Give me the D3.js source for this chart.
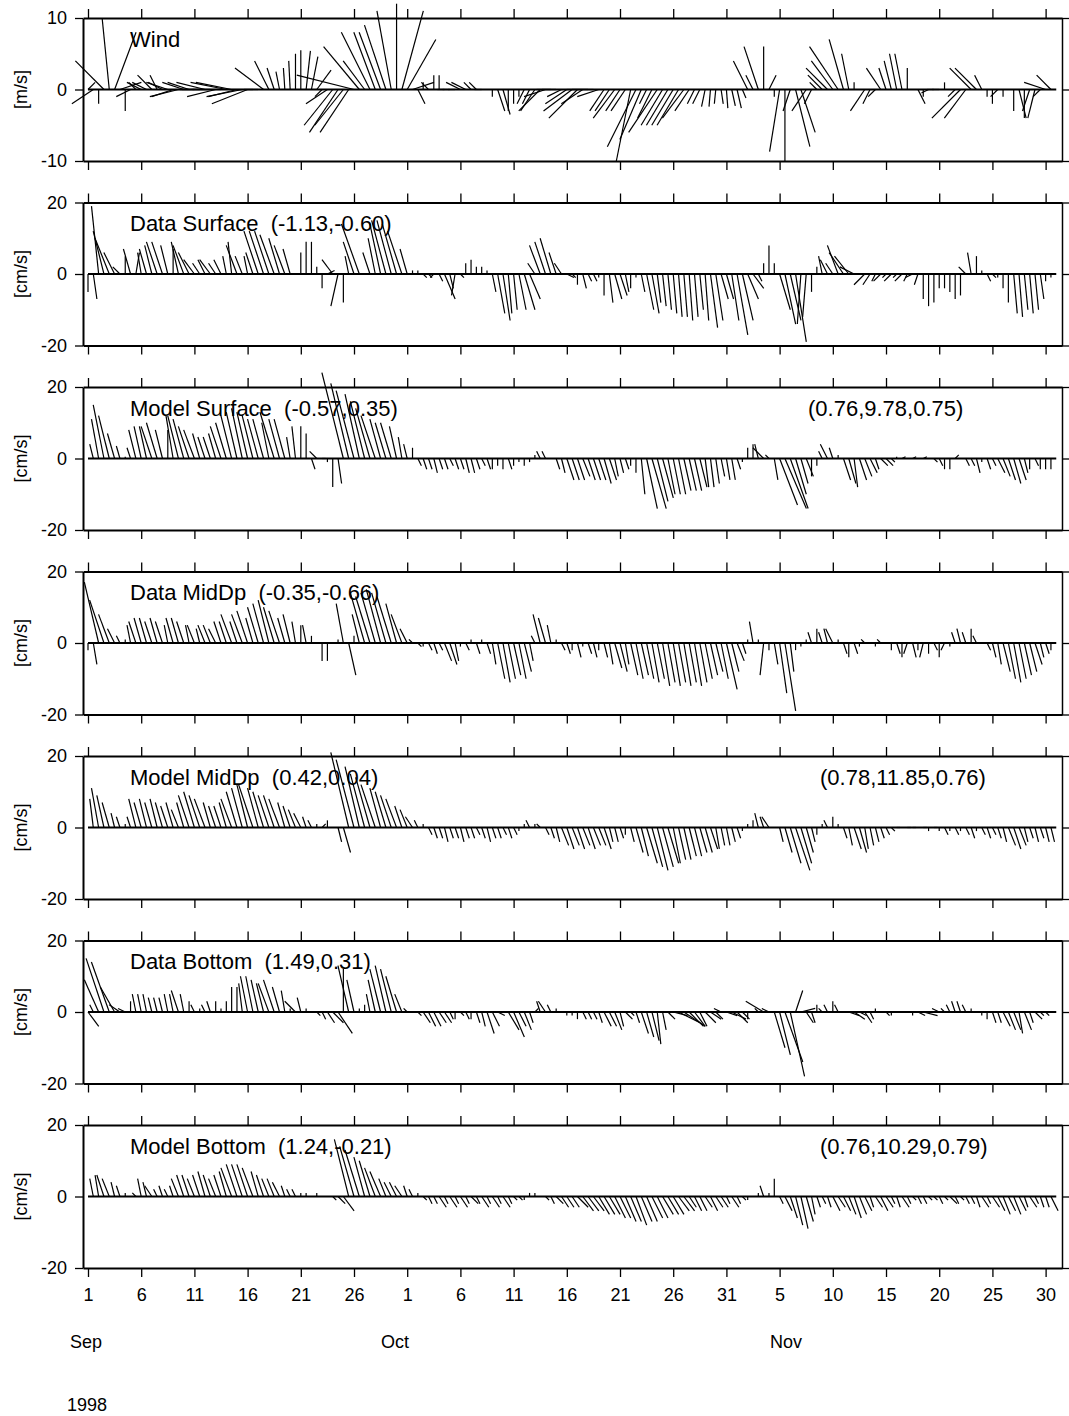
<!DOCTYPE html>
<html>
<head>
<meta charset="utf-8">
<script src="https://cdn.jsdelivr.net/npm/d3@7"></script>
<style>
  body { margin: 0; background: #fff; }
  text { font-family: "Liberation Sans", Arial, Helvetica, sans-serif; fill: #000; }
</style>
</head>
<body>
<div id="chart"></div>
<script>
// records are every 12 hours, first one on Sep 1 1998 00:00
var stepDays = 0.5;

// x ticks every 5 days from Sep 1
var tickDays = [0, 5, 10, 15, 20, 25, 30, 35, 40, 45, 50, 55, 60, 65, 70, 75, 80, 85, 90];
var tickLabels = ["1", "6", "11", "16", "21", "26", "1", "6", "11", "16", "21", "26", "31", "5", "10", "15", "20", "25", "30"];
var monthNames = ["Sep", "Oct", "Nov"];
var yearLabel = "1998";

// [u, v] pairs (east, north), wind in m/s
var wind = [
  [1,1],[-3,-2],[0,-2],[-4,4],[-1,10],[3,8],[3,1],[0,-3],[-2,-1],[-1,1],
  [-2,1],[-2,1],[-2,2],[-1,2],[-2,1],[-3,1],[-3,-1],[-4,-1],[-3,1],[-3,1],
  [-2,0],[-3,0],[-4,1],[-4,0],[-4,-1],[-4,0],[-5,1],[-5,1],[-4,-1],[-5,-1],
  [-5,-2],[-3,0],[-2,0],[-4,3],[-2,4],[-1,3],[-0.5,2.5],[-0.2,3],[-0.2,4],[0,5],
  [0,5.5],[0.6,5.4],[0.9,4.6],[2,2.7],[-1,-1],[-3,-2],[-4,-5],[-4,-6],[-4,-5],[-4,-6],
  [-8,2],[-5,6],[-3,4],[-4,8],[-3,8],[-3,8],[-3,9],[-2,11],[0,12],[3,11],
  [4,7],[3,1],[1,-2],[0,1],[-1,1],[0,2],[0,2],[-1,0],[-1,0],[-1,0],
  [-2,1],[-2,1],[-1,1],[-1,1],[-1,0],[0,0],[0,-1],[1,-3],[1,-3.5],[0,-3],
  [0,-2],[0,-1],[-1,-2],[-1,-2],[-2,-3],[-3,-3],[-3,-1],[-2,0],[-2,0],[-2,-1],
  [-3,-2],[-4,-3],[-4,-4],[-3,-2],[-3,0],[-3,0],[-3,-1],[-2,-3],[-2,-3],[-3,-4],
  [-2,-3],[-2,-3],[-2,-10],[-4,-8],[-3,-7],[-1,-2],[-2,-4],[-4,-6],[-3,-5],[-3,-5],
  [-3,-5],[-3,-5],[-3,-4],[-2,-3],[-1,-2],[-1,-2],[-0.5,-2.4],[-0.2,-2.4],[-0.2,-2],[0.3,-2],
  [0.2,-2.6],[0.5,-2.3],[0.6,-2.6],[0.5,-1.2],[-2,4],[-1,2],[-2,6],[0,6],[1,2],[0,-1],
  [-1.4,-8.7],[0,-10],[-1,-3],[2,-8],[2,-6],[-2,-3],[-1,-2],[-1,1],[-2,2],[-3,3],
  [-3,4],[-4,6],[-2,7],[-1,5],[0,1],[0,0],[-2,-3],[-1,-2],[-1,-1],[-2,3],
  [-1,3],[-1,4],[-1,5],[-1,5],[0,3],[0,0],[1,-2],[0,-1],[-1,-0.5],[-1,0],
  [-1,0],[0,1],[0,0],[-1,-1],[-4,-4],[-3,-4],[-3,3],[-3,3],[-1,2],[0,-1],
  [0,-2],[-1,-1],[0,-1],[0,0],[0,-3],[1,-4],[0,-4],[-1,-3],[-1,-4],[-1,-1],
  [-3,1],[-2,2]
];

// currents in cm/s
var dataSurface = [
  [0,-5],[1,-7],[-2,19],[-3,12],[-4,10],[-3,6],[-2,2],[0,5],[-2,7],[1,6],
  [-1,6],[-2,7],[-2,8],[-3,9],[-3,9],[-2,8],[0,7],[-2,9],[-3,8],[-3,6],
  [-3,4],[-2,3],[-2,4],[-3,4],[-2,3],[-2,4],[-1,5],[-1,9],[-3,8],[-2,5],
  [-1,5],[-2,6],[-4,12],[-4,12],[-4,12],[-4,11],[-3,10],[-3,8],[-2,7],[0,0],
  [0,6],[0,9],[0,9],[0,2],[0,-4],[2,1],[-3,4],[-2,-9],[0,-8],[-1,5],
  [-3,9],[-5,14],[1,0],[-2,6],[-2,10],[-3,14],[-4,15],[-4,15],[-4,14],[-4,12],
  [-2,7],[0,1],[0,1],[1,-1],[1,-1],[-1,-1],[1,-2],[3,-7],[1,-4],[-1,-6],
  [1,-1],[0,3],[0,4],[0,2],[0,2],[0,1],[1,-5],[2,-11],[2,-13],[1,-11],
  [1,-10],[2,-10],[3,-10],[3,-7],[-2,3],[-3,8],[-3,9],[-3,10],[-2,6],[-2,3],
  [2,-1],[1,-1],[0,-3],[1,-4],[1,-2],[1,-2],[0,-1],[0,-6],[1,-8],[2,-7],
  [2,-6],[1,-5],[0,-4],[0,-1],[1,-5],[2,-10],[2,-11],[1,-8],[1,-9],[1,-10],
  [1,-11],[1,-12],[1,-12],[1,-13],[1,-12],[1,-10],[1,-13],[2,-15],[2,-13],[2,-7],
  [2,-7],[2,-13],[3,-17],[3,-13],[3,-7],[3,-4],[1,-2],[0,3],[0,8],[0,3],
  [3,-10],[3,-14],[3,-13],[3,-19],[-1,-14],[-1,-12],[0,-5],[0,2],[-1,5],[-2,4],
  [-2,3],[-3,8],[-4,6],[-4,5],[-4,2],[-2,0],[-3,-3],[-2,-3],[-1,-2],[-2,-2],
  [-1,-1],[-2,-2],[-1,-1],[-2,-2],[-1,-2],[-2,-1],[-1,-3],[0,-7],[0,-9],[0,-8],
  [0,-4],[0,-4],[0,-5],[0,-7],[0,-6],[-2,2],[-1,6],[0,5],[0,1],[1,-2],
  [1,-1],[0,-1],[0,-4],[0,-8],[1,-11],[1,-12],[1,-10],[1,-11],[1,-10],[1,-7],
  [0,-2],[0,-1]
];

var modelSurface = [
  [0,0],[-1,4],[-2,11],[-3,15],[-3,12],[-2,7],[-1,3.5],[0,0.5],[-1,3],[-2,8],
  [-2,9],[-2,9],[-3,9],[-3,10],[-2,8],[0,8],[-2,12],[-3,12],[-3,11],[-3,9],
  [-3,8],[-2,7],[-2,6],[-2,6],[-2,7],[-3,9],[-3,10],[-3,12],[-3,13],[-3,14],
  [-3,13],[-3,12],[-3,11],[-3,11],[-2,10],[-4,13],[-3,11],[-3,11],[-1,6],[-1,9],
  [0,9],[0,7],[1,-3],[-2,2],[1,0],[0,-1],[0,-8],[1,-7],[-6,24],[-5,21],
  [-5,19],[-4,18],[-4,16],[-4,14],[-4,12],[-3,11],[-3,10],[-3,10],[-2,9],[-1,6],
  [-1,4],[0,3],[1,-2],[1,-3],[1,-3],[1,-4],[1,-3],[1,-3],[1,-2],[1,-3],
  [1,-3],[1,-4],[1,-4],[1,-3],[1,-2],[1,-3],[0,-3],[0,-2],[0,-3],[1,-3],
  [0,-2],[0,-1],[0,-2],[0,-1],[0,1],[-1,2],[-1,2],[0,0],[1,-3],[1,-4],
  [2,-6],[2,-6],[2,-6],[2,-5],[2,-6],[2,-6],[2,-6],[2,-7],[2,-6],[1,-5],
  [1,-4],[1,-3],[0,-2],[0,-4],[1,-10],[3,-14],[4,-14],[3,-12],[3,-11],[2,-10],
  [2,-10],[2,-10],[2,-9],[2,-9],[2,-9],[2,-8],[1,-8],[1,-8],[1,-7],[1,-5],
  [1,-6],[1,-6],[1,-3],[0,-1],[0,3],[0,4],[-1,4],[-3,3],[-1,1],[1,-6],
  [5,-13],[6,-14],[5,-14],[3,-10],[2,-7],[2,-5],[0,-5],[0,-2],[-1,2],[-2,4],
  [-1,3],[0,1],[2,-6],[2,-7],[1,-8],[2,-6],[2,-5],[2,-4],[1,-3],[2,-2],
  [2,-2],[1,-1],[0,0.5],[1,0.5],[0,0],[1,0.5],[0,0],[1,0.5],[0,0],[1,-1],
  [1,-2],[0,-3],[0,-3],[1,1],[0,0],[1,-2],[1,-2],[1,-4],[0,-1],[1,-3],
  [1,-2],[2,-4],[2,-5],[2,-6],[2,-7],[2,-6],[1,-4],[0,-3],[1,-2],[0,-3],
  [0,-3],[0,-3]
];

var dataMid = [
  [0,-2],[1,-6],[-4,17],[-4,12],[-3,8],[-2,4],[-1,2],[0,1],[-1,5],[-2,6],
  [-2,7],[-2,7],[-2,6],[-2,7],[-2,6],[-1,5],[-2,7],[-2,7],[-2,6],[-1,5],
  [-2,5],[-1,4],[-2,5],[-2,5],[-2,4],[-2,6],[-2,6],[-3,8],[-2,6],[-3,8],
  [-3,9],[-2,7],[-3,10],[-3,11],[-3,12],[-3,10],[-3,9],[-2,7],[-2,8],[-1,6],
  [0,5],[-1,5],[0,2],[0,0],[0,-5],[0,-5],[0,0],[0,1],[-2,11],[2,-9],
  [0,2],[-2,8],[-4,14],[-4,13],[-4,14],[-4,15],[-4,14],[-4,13],[-3,11],[-3,8],
  [-2,4],[-1,1],[1,-1],[0,-1],[1,-2],[1,-3],[1,-2],[2,-5],[2,-6],[1,-5],
  [0,-1],[1,-2],[0,1],[1,-3],[0,1],[1,-3],[1,-6],[2,-10],[2,-11],[2,-10],
  [2,-9],[2,-10],[2,-8],[1,-5],[-1,2],[-2,8],[-2,7],[-1,5],[0,1],[1,-2],
  [1,-3],[0,-2],[1,-4],[0,-1],[1,-3],[1,-4],[0,-2],[1,-4],[1,-6],[2,-7],
  [2,-8],[1,-6],[2,-9],[2,-10],[2,-9],[2,-10],[2,-11],[2,-10],[2,-12],[2,-11],
  [2,-12],[2,-11],[2,-12],[2,-11],[2,-12],[2,-11],[2,-10],[2,-9],[2,-8],[2,-10],
  [3,-13],[2,-8],[2,-5],[1,-3],[0,1],[-1,6],[0,1],[-1,-9],[0,-2],[1,-6],
  [2,-14],[3,-19],[1,-8],[0,-2],[0,-1],[0,1],[-1,3],[0,4],[-1,3],[-1,4],
  [-2,4],[0,1],[1,-3],[0,-4],[1,-3],[0,-1],[-1,1],[-1,0],[0,-1],[-1,1],
  [0,0],[0,-2],[1,-3],[0,-4],[-1,-3],[1,-4],[0,-2],[-1,-4],[0,-3],[1,-2],
  [0,-4],[-1,-2],[0,-1],[-1,3],[-1,4],[-1,3],[0,4],[-1,2],[0,0],[1,-2],
  [1,-4],[1,-6],[2,-8],[2,-10],[2,-11],[2,-10],[2,-9],[2,-8],[2,-6],[1,-4],
  [1,-3],[0,-2]
];

var modelMid = [
  [0,0],[-1,8],[-2,11],[-2,9],[-2,7],[-1,4],[-1,3],[0,1],[-1,3],[-2,8],
  [-2,7],[-2,8],[-2,7],[-2,8],[-2,7],[-2,6],[-2,7],[-2,5],[-2,7],[-3,9],
  [-3,10],[-3,9],[-3,8],[-2,7],[-2,6],[-2,6],[-2,7],[-3,8],[-3,10],[-3,11],
  [-3,12],[-4,12],[-3,11],[-3,10],[-3,9],[-3,9],[-3,8],[-2,7],[-2,6],[-2,5],
  [-2,4],[-1,3],[-1,2],[0,1],[1,1],[0,2],[0,0],[1,-4],[2,-7],[-5,21],
  [-5,19],[-4,17],[-4,15],[-4,14],[-4,12],[-3,11],[-3,10],[-3,9],[-3,8],[-2,6],
  [-2,5],[-2,3],[-1,2],[0,1],[1,-2],[1,-3],[1,-3],[1,-4],[1,-3],[1,-3],
  [1,-4],[1,-3],[1,-3],[1,-2],[1,-3],[1,-4],[1,-3],[1,-3],[1,-2],[1,-3],
  [1,-2],[0,-1],[0,1],[-1,2],[0,1],[-1,1],[1,-2],[1,-3],[1,-4],[2,-5],
  [2,-6],[2,-5],[2,-6],[2,-5],[2,-6],[2,-5],[2,-5],[2,-6],[1,-4],[1,-4],
  [1,-3],[0,-2],[1,-4],[2,-7],[2,-8],[3,-10],[3,-11],[3,-12],[3,-11],[3,-10],
  [2,-10],[2,-9],[2,-9],[2,-8],[2,-8],[2,-7],[2,-7],[2,-6],[1,-6],[1,-5],
  [1,-5],[1,-4],[1,-3],[0,-1],[0,1],[0,2],[-1,4],[-1,3],[-2,3],[0,0],
  [1,-4],[2,-7],[3,-10],[4,-12],[3,-10],[2,-7],[1,-4],[0,-2],[0,1],[-1,2],
  [0,3],[0,1],[1,-3],[1,-5],[2,-6],[2,-7],[1,-6],[1,-5],[1,-4],[1,-3],
  [1,-2],[1,-1],[1,0],[0,0],[1,0],[1,0],[0,0],[1,0],[0,-1],[1,0],
  [0,-1],[1,-2],[0,-1],[1,-2],[0,-1],[1,-2],[1,-3],[0,-1],[1,-2],[1,-3],
  [1,-2],[1,-3],[1,-4],[2,-5],[2,-6],[2,-5],[1,-4],[1,-3],[1,-4],[1,-3],
  [1,-4],[1,-4]
];

var dataBottom = [
  [3,-4],[-1,2],[-4,9],[-5,15],[-5,14],[-4,7],[-3,2],[-2,1],[0,3],[-1,5],
  [-1,5],[-1,5],[-1,4],[-1,4],[-1,4],[-1,5],[-1,5],[-2,6],[-1,5],[0,3],
  [-1,2],[0,1],[-1,2],[-1,3],[0,3],[0,1],[0,3],[0,7],[0,7],[-1,8],
  [-2,10],[-2,10],[-2,9],[-2,8],[-3,8],[-3,9],[-2,7],[-1,6],[0,1],[-3,3],
  [-1,4],[0,1],[0,0],[1,-1],[1,-2],[2,-3],[3,-3],[4,-6],[0,12],[-3,13],
  [-2,9],[0,1],[0,2],[-1,5],[-2,9],[-3,12],[-3,13],[-3,12],[-3,10],[-2,5],
  [-1,1],[-1,0],[1,-1],[2,-3],[2,-4],[2,-4],[2,-3],[2,-3],[1,-2],[0,-2],
  [1,-1],[1,-2],[0,-2],[1,-3],[1,-4],[2,-6],[2,-4],[2,-1],[1,0],[3,-5],
  [3,-7],[2,-4],[2,-5],[1,-3],[1,1],[-1,3],[-2,3],[-1,2],[0,1],[0,0],
  [0,-1],[0,-1],[0,-2],[1,-2],[1,-2],[1,-2],[1,-3],[2,-4],[2,-4],[2,-5],
  [1,-4],[2,-2],[1,-1],[1,-3],[2,-6],[2,-7],[2,-8],[1,-9],[1,-5],[2,-2],
  [4,-1],[6,-3],[6,-4],[4,-4],[3,-4],[2,-4],[3,-3],[3,-2],[2,-2],[-2,1],
  [3,-1],[4,-2],[3,-3],[2,-2],[0,-2],[0,0],[-1,1],[-5,3],[-2,1],[3,-10],
  [3,-12],[5,-14],[4,-18],[2,6],[4,1],[2,-3],[1,-3],[0,2],[-1,1],[-1,2],
  [0,3],[-1,2],[0,0],[3,-1],[3,-2],[2,-1],[2,-3],[1,-2],[0,1],[1,0],
  [1,-1],[0,-1],[0,0],[1,0],[0,0],[0,-1],[2,-1],[4,-1],[1,0],[-1,0],
  [-2,1],[-1,1],[-1,2],[-1,3],[-1,3],[-1,2],[0,1],[0,0],[0,-1],[0,-2],
  [1,-3],[1,-3],[2,-4],[2,-5],[2,-5],[1,-6],[2,-5],[1,-3],[2,-2],[1,-1],
  [1,-1],[0,0]
];

var modelBottom = [
  [0,0],[-1,5],[-1,6],[-2,6],[-2,5],[-1,4],[-1,3],[0,1],[0,0],[-1,1],
  [-1,5],[-1,4],[-2,3],[-1,2],[-1,3],[-1,2],[-1,3],[-2,5],[-2,6],[-2,6],
  [-2,5],[-2,6],[-2,7],[-2,6],[-2,5],[-2,6],[-2,7],[-3,8],[-3,9],[-3,9],
  [-3,9],[-3,8],[-2,7],[-2,6],[-2,5],[-2,5],[-2,4],[-1,3],[-1,2],[-1,2],
  [0,1],[0,1],[0,0],[0,1],[0,0],[0,0],[1,-1],[2,-2],[3,-4],[-4,16],
  [-4,14],[-4,13],[-3,11],[-3,10],[-3,8],[-3,7],[-2,5],[-2,4],[-2,4],[-2,3],
  [-1,3],[-1,2],[0,1],[1,-1],[1,-2],[1,-2],[2,-3],[1,-2],[2,-3],[1,-2],
  [2,-3],[1,-2],[2,-2],[1,-2],[2,-3],[1,-2],[2,-3],[1,-2],[2,-3],[1,-2],
  [1,-1],[1,-1],[0,-1],[0,1],[0,1],[0,0],[1,-1],[1,-2],[2,-2],[2,-3],
  [2,-3],[2,-3],[3,-3],[3,-4],[3,-4],[3,-4],[3,-5],[3,-5],[3,-5],[3,-6],
  [3,-6],[3,-7],[3,-7],[3,-8],[3,-7],[3,-7],[3,-6],[3,-6],[3,-5],[3,-5],
  [3,-5],[3,-4],[3,-4],[2,-3],[2,-4],[2,-4],[2,-3],[2,-4],[2,-3],[2,-3],
  [1,-2],[2,-3],[1,-2],[1,-1],[0,-1],[0,0],[0,1],[-1,3],[0,1],[0,5],
  [1,-2],[2,-4],[2,-6],[2,-8],[2,-9],[2,-7],[1,-5],[1,-3],[1,-2],[1,-3],
  [2,-4],[2,-3],[2,-4],[2,-5],[2,-6],[2,-5],[2,-4],[1,-3],[2,-3],[2,-4],
  [2,-3],[1,-2],[1,-3],[2,-3],[1,-2],[1,-1],[1,-2],[1,-2],[1,-1],[1,-1],
  [1,-2],[1,-1],[2,-2],[1,-2],[1,-1],[1,-2],[1,-2],[1,-3],[2,-3],[1,-2],
  [2,-3],[2,-4],[2,-5],[2,-4],[2,-5],[2,-4],[1,-3],[2,-3],[1,-2],[1,-3],
  [1,-3],[2,-4]
];

// one entry per panel, top to bottom
var panels = [
  { data: wind,         lim: 10, unit: "[m/s]",  label: "Wind",                         stats: "" },
  { data: dataSurface,  lim: 20, unit: "[cm/s]", label: "Data Surface  (-1.13,-0.60)",  stats: "" },
  { data: modelSurface, lim: 20, unit: "[cm/s]", label: "Model Surface  (-0.57,0.35)",  stats: "(0.76,9.78,0.75)" },
  { data: dataMid,      lim: 20, unit: "[cm/s]", label: "Data MidDp  (-0.35,-0.66)",    stats: "" },
  { data: modelMid,     lim: 20, unit: "[cm/s]", label: "Model MidDp  (0.42,0.04)",     stats: "(0.78,11.85,0.76)" },
  { data: dataBottom,   lim: 20, unit: "[cm/s]", label: "Data Bottom  (1.49,0.31)",     stats: "" },
  { data: modelBottom,  lim: 20, unit: "[cm/s]", label: "Model Bottom  (1.24,-0.21)",   stats: "(0.76,10.29,0.79)" }
];

var W = 1069, H = 1416;
var left = 83, right = 1062, firstTop = 18, step = 184.5, ph = 143;

var svg = d3.select("#chart")
  .append("svg")
    .attr("width", W)
    .attr("height", H);

// time axis in days since Sep 1
var x = d3.scaleLinear()
  .domain([-0.47, 91.54])
  .range([left, right]);

panels.forEach(function(p, k) {
  var top = firstTop + k * step;
  var y = d3.scaleLinear()
    .domain([-p.lim, p.lim])
    .range([top + ph, top]);
  var px = y(0) - y(1); // pixels per unit, used for u as well so sticks keep their angle

  var g = svg.append("g");

  // sticks
  g.selectAll("line.stick")
    .data(p.data)
    .enter()
    .append("line")
      .attr("class", "stick")
      .attr("x1", function(d, i) { return x(i * stepDays); })
      .attr("y1", y(0))
      .attr("x2", function(d, i) { return x(i * stepDays) + d[0] * px; })
      .attr("y2", function(d) { return y(d[1]); })
      .attr("stroke", "#000")
      .attr("stroke-width", 1.2);

  // zero line
  g.append("line")
    .attr("x1", x(0))
    .attr("x2", x(p.data.length * stepDays))
    .attr("y1", y(0))
    .attr("y2", y(0))
    .attr("stroke", "#000")
    .attr("stroke-width", 2);

  // frame + ticks
  var yTicks = [-p.lim, 0, p.lim];
  g.append("g")
    .attr("class", "axL")
    .attr("transform", "translate(" + left + ",0)")
    .call(d3.axisLeft(y).tickValues(yTicks).tickSize(8).tickSizeOuter(0).tickPadding(8)
      .tickFormat(function(d) { return String(d); }));
  g.append("g")
    .attr("class", "axR")
    .attr("transform", "translate(" + right + ",0)")
    .call(d3.axisRight(y).tickValues(yTicks).tickSize(7).tickSizeOuter(0).tickFormat(""));
  g.append("g")
    .attr("transform", "translate(0," + top + ")")
    .call(d3.axisTop(x).tickValues(tickDays).tickSize(9).tickSizeOuter(0).tickFormat(""));
  g.append("g")
    .attr("transform", "translate(0," + (top + ph) + ")")
    .call(d3.axisBottom(x).tickValues(tickDays).tickSize(9).tickSizeOuter(0).tickPadding(11)
      .tickFormat(function(d, i) { return k == panels.length - 1 ? tickLabels[i] : ""; }));

  g.selectAll(".domain").attr("stroke-width", 2);
  g.select(".axR .domain").attr("stroke-width", 1.5);
  g.selectAll(".tick line").attr("stroke-width", 1.3);
  g.selectAll(".tick text")
    .style("font-size", "18px")
    .style("font-family", "'Liberation Sans', Arial, sans-serif");

  // unit label
  g.append("text")
    .attr("transform", "translate(21," + y(0) + ") rotate(-90)")
    .attr("text-anchor", "middle")
    .attr("dy", "0.35em")
    .style("font-size", "18px")
    .text(p.unit);

  // panel title and fit numbers
  g.append("text")
    .attr("x", 130)
    .attr("y", top + 28.5)
    .style("font-size", "22px")
    .style("white-space", "pre")
    .text(p.label);
  if (p.stats) {
    g.append("text")
      .attr("x", k == 2 ? 808 : 820)
      .attr("y", top + 28.5)
      .style("font-size", "22px")
      .text(p.stats);
  }
});

// month and year under the last panel
var monthX = [86, 395, 786];
svg.selectAll("text.month")
  .data(monthNames)
  .enter()
  .append("text")
    .attr("class", "month")
    .attr("x", function(d, i) { return monthX[i]; })
    .attr("y", 1348)
    .attr("text-anchor", "middle")
    .style("font-size", "18px")
    .text(function(d) { return d; });

svg.append("text")
  .attr("x", 87)
  .attr("y", 1411)
  .attr("text-anchor", "middle")
  .style("font-size", "18px")
  .text(yearLabel);
</script>
</body>
</html>
